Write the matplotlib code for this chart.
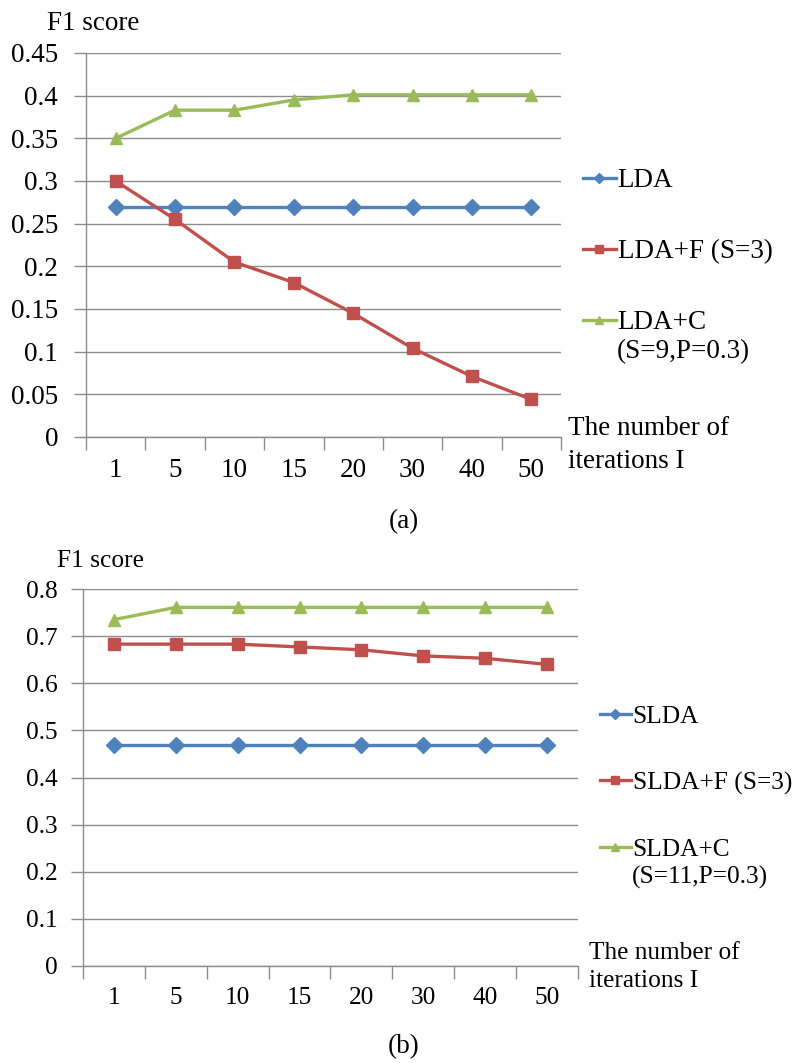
import matplotlib.pyplot as plt
from matplotlib.ticker import FixedLocator, NullFormatter, FixedFormatter

plt.rcParams["font.family"] = ["Liberation Serif", "DejaVu Serif"]

W, H = 794, 1063

iterations = ["1", "5", "10", "15", "20", "30", "40", "50"]

# panel (a)
lda = [0.269, 0.269, 0.269, 0.269, 0.269, 0.269, 0.269, 0.269]
lda_f = [0.300, 0.255, 0.205, 0.181, 0.145, 0.104, 0.071, 0.044]
lda_c = [0.350, 0.383, 0.383, 0.395, 0.401, 0.401, 0.401, 0.401]

# panel (b)
slda = [0.470, 0.470, 0.470, 0.470, 0.470, 0.470, 0.470, 0.470]
slda_f = [0.683, 0.683, 0.683, 0.677, 0.671, 0.658, 0.653, 0.640]
slda_c = [0.735, 0.761, 0.761, 0.761, 0.761, 0.761, 0.761, 0.761]

BLUE = "#4F81BD"
RED = "#C0504D"
GREEN = "#9BBB59"
GRID = "#8C8C8C"


def px_rect(left, right, top, bottom):
    return [left / W, 1 - bottom / H, (right - left) / W, (bottom - top) / H]


def fig_xy(x, y):
    return x / W, 1 - y / H


def draw_panel(fig, rect, fs, series, labels, ymax, ystep, yfmt, ypad, leg_xy, leg_space,
               extra_label, extra_xy, xl_xy, xl_space, f1_xy, tag, tag_xy):
    ax = fig.add_axes(rect)
    x = list(range(len(iterations)))
    styles = [(BLUE, "D", 8), (RED, "s", 9), (GREEN, "^", 9)]
    for vals, lab, (c, m, ms) in zip(series, labels, styles):
        ax.plot(x, vals, color=c, marker=m, markersize=ms, linewidth=2.4, label=lab,
                markeredgecolor=c, clip_on=False, zorder=3)

    ax.set_xlim(-0.5, len(iterations) - 0.5)
    ax.set_ylim(0, ymax)
    n = int(round(ymax / ystep))
    yt = [i * ystep for i in range(n + 1)]
    ax.set_yticks(yt)
    ax.set_yticklabels([yfmt(v) for v in yt])
    ax.yaxis.grid(True, color=GRID, linewidth=1.0)
    ax.set_axisbelow(True)

    # category boundaries get the tick marks, labels sit in between
    ax.xaxis.set_major_locator(FixedLocator([i - 0.5 for i in range(len(iterations) + 1)]))
    ax.xaxis.set_major_formatter(NullFormatter())
    ax.xaxis.set_minor_locator(FixedLocator(x))
    ax.xaxis.set_minor_formatter(FixedFormatter(iterations))
    ax.tick_params(axis="x", which="major", length=9, color=GRID, width=1.0)
    ax.tick_params(axis="x", which="minor", length=0, pad=15, labelsize=fs)
    ax.tick_params(axis="y", length=9, color=GRID, width=1.0, labelsize=fs, pad=ypad)

    for side in ("top", "right"):
        ax.spines[side].set_visible(False)
    for side in ("left", "bottom"):
        ax.spines[side].set_color(GRID)
        ax.spines[side].set_linewidth(1.0)

    ax.legend(loc="upper left", bbox_to_anchor=fig_xy(*leg_xy),
              bbox_transform=fig.transFigure, frameon=False, fontsize=fs,
              handlelength=1.2, handletextpad=0.08, borderpad=0, borderaxespad=0,
              labelspacing=leg_space, markerscale=0.7)
    fig.text(*fig_xy(*extra_xy), extra_label, fontsize=fs, ha="left", va="center")
    fig.text(*fig_xy(*xl_xy), "The number of\niterations I", fontsize=fs,
             ha="left", va="center", linespacing=xl_space)
    fig.text(*fig_xy(*f1_xy), "F1 score", fontsize=fs, ha="left", va="center")
    fig.text(*fig_xy(*tag_xy), tag, fontsize=19.5, ha="center", va="center")
    return ax


fig = plt.figure(figsize=(W / 100, H / 100), dpi=100)

draw_panel(fig, px_rect(86, 561, 53, 437), 19.5, [lda, lda_f, lda_c],
           ["LDA", "LDA+F (S=3)", "LDA+C"], 0.45, 0.05,
           lambda v: "0" if v == 0 else f"{v:.2f}".rstrip("0"), 11,
           (583, 168), 1.7, "(S=9,P=0.3)", (617, 352), (568, 445), 1.4,
           (47, 24), "(a)", (404, 522))

draw_panel(fig, px_rect(83, 578, 589, 966), 18.3, [slda, slda_f, slda_c],
           ["SLDA", "SLDA+F (S=3)", "SLDA+C"], 0.8, 0.1,
           lambda v: "0" if v == 0 else f"{v:.1f}", 9.5,
           (600, 705), 1.72, "(S=11,P=0.3)", (632, 877), (589, 967), 1.35,
           (57, 561), "(b)", (404, 1047))

fig.savefig("out.png", dpi=100)
